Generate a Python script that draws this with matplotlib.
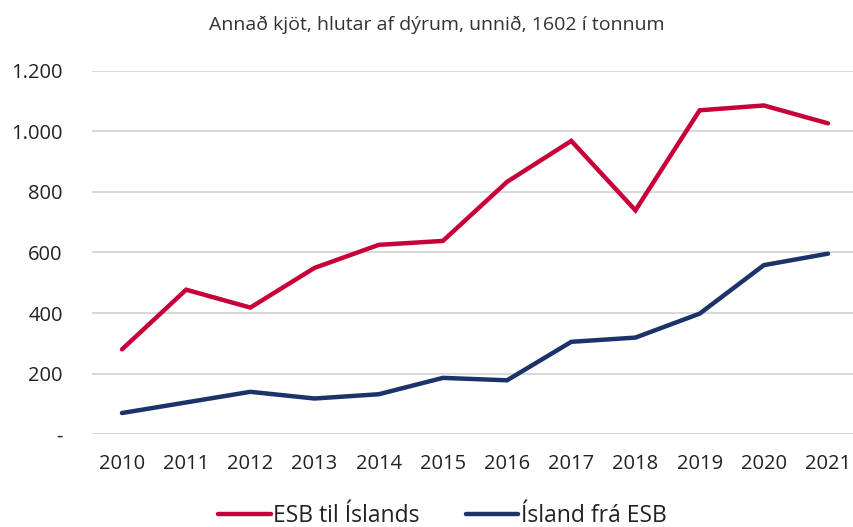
import matplotlib
matplotlib.use("Agg")
import matplotlib.pyplot as plt
from matplotlib.ticker import FuncFormatter

years = ["2010", "2011", "2012", "2013", "2014", "2015", "2016", "2017", "2018", "2019", "2020", "2021"]
esb_til_islands = [280, 477, 418, 549, 625, 638, 833, 968, 739, 1069, 1085, 1026]
island_fra_esb = [70, 105, 140, 118, 132, 186, 178, 305, 319, 398, 558, 596]
title = "Annað kjöt, hlutar af dýrum, unnið, 1602 í tonnum"

plt.rcParams['font.family'] = ['Open Sans', 'DejaVu Sans']

fig = plt.figure(figsize=(8.54, 5.27), dpi=100)
ax = fig.add_axes([92 / 854, 0.176, 762 / 854, 0.690])

x = list(range(len(years)))
ax.plot(x, esb_til_islands, color="#C8003A", lw=3.2, solid_capstyle="round", solid_joinstyle="miter", label="ESB til Íslands", zorder=3)
ax.plot(x, island_fra_esb, color="#1B3368", lw=3.2, solid_capstyle="round", solid_joinstyle="miter", label="Ísland frá ESB", zorder=3)

ax.set_xlim(-0.467, 11.405)
ax.set_ylim(0, 1200)
ax.set_yticks(range(0, 1201, 200))
ax.yaxis.set_major_formatter(FuncFormatter(lambda v, p: "-" if v == 0 else f"{int(v):,}".replace(",", ".")))
ax.set_xticks(x)
ax.set_xticklabels(years)
ax.grid(axis="y", color="#d9d9d9", lw=1.5, zorder=0)
for s in ax.spines.values():
    s.set_visible(False)
ax.tick_params(axis="both", length=0, labelsize=14.5, colors="#222222")
ax.tick_params(axis="y", pad=21)
ax.tick_params(axis="x", pad=14)

fig.text(0.512, 0.952, title, ha="center", va="center", fontsize=14, color="#333333")

leg = fig.legend(loc="center", bbox_to_anchor=(0.518, 0.02), ncol=2, frameon=False,
                 fontsize=16.5, handlelength=2.3, handletextpad=0.1, columnspacing=2.0)
for t in leg.get_texts():
    t.set_color("#222222")

fig.savefig("out.png", dpi=100)
